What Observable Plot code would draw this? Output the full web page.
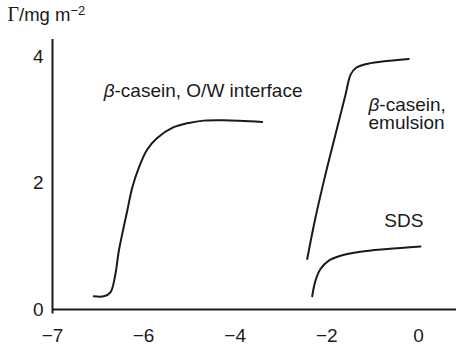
<!DOCTYPE html>
<html><head><meta charset="utf-8">
<script src="https://cdn.jsdelivr.net/npm/d3@7"></script>
<script src="https://cdn.jsdelivr.net/npm/@observablehq/plot@0.6"></script>
<style>body{margin:0;background:#fff} svg{display:block}</style>
</head><body><div id="chart"></div>
<script>
// β-casein at the O/W interface
const owX = [-6.546, -6.436, -6.363, -6.315, -6.271, -6.234, -6.179, -6.124, -6.052, -5.919, -5.701, -5.374, -5.012, -4.684, -4.248, -3.41];
const owY = [0.209, 0.209, 0.272, 0.509, 0.929, 1.192, 1.559, 1.926, 2.241, 2.531, 2.713, 2.871, 2.95, 2.987, 2.992, 2.965];
// β-casein in emulsion
const emX = [-2.428, -2.247, -2.029, -1.811, -1.592, -1.483, -1.374, -1.156, -0.792, -0.211];
const emY = [0.798, 1.454, 2.137, 2.767, 3.397, 3.711, 3.816, 3.879, 3.921, 3.963];
// SDS
const sdsX = [-2.319, -2.247, -2.138, -1.957, -1.701, -1.265, -0.683, 0.044];
const sdsY = [0.209, 0.457, 0.641, 0.772, 0.850, 0.913, 0.956, 0.997];

const xTicks = [-7, -6, -4, -2, 0];
const yTicks = [0, 2, 4];
const labelText = ["β-casein, O/W interface", "β-casein,\nemulsion", "SDS"];
const labelX = [-4.70, -1.09, -0.32];
const labelY = [3.45, 3.09, 1.40];
const labelAnchor = ["middle", "start", "middle"];
const yTitle = "Γ/mg m−2";

const series = [
  {name: "ow", xs: owX, ys: owY},
  {name: "em", xs: emX, ys: emY},
  {name: "sds", xs: sdsX, ys: sdsY}
];
const rows = series.flatMap(s => s.xs.map((x, i) => ({series: s.name, x, y: s.ys[i]})));
const labels = labelText.map((t, i) => ({t, x: labelX[i], y: labelY[i], a: labelAnchor[i]}));

const FONT = "'Liberation Sans', Arial, Helvetica, sans-serif";
const INK = "#1a1a1a";
const fmt = d => d < 0 ? "\u2212" + Math.abs(d) : String(d);

const svg = Plot.plot({
  width: 456,
  height: 349,
  marginLeft: 52, marginRight: 0, marginTop: 39, marginBottom: 40,
  style: {fontFamily: FONT, fontSize: "19px", color: INK, background: "#fff"},
  x: {type: "linear", domain: [-7, -6, 0.83], range: [52, 143, 456]},
  y: {domain: [0, 4.27], range: [309, 39]},
  marks: [
    Plot.axisX({ticks: xTicks, tickSize: 0, tickPadding: 19, tickFormat: fmt, label: null, fontSize: 19}),
    Plot.axisY({ticks: yTicks, tickSize: 0, tickPadding: 9, tickFormat: fmt, label: null, fontSize: 19}),
    Plot.ruleY([0], {x1: -7, x2: 0.83, stroke: INK, strokeWidth: 2}),
    Plot.ruleX([-7], {y1: -0.07, y2: 4.27, stroke: INK, strokeWidth: 2}),
    Plot.line(rows, {x: "x", y: "y", z: "series", stroke: INK, strokeWidth: 2, curve: "catmull-rom"}),
    ...["middle", "start"].map(a =>
      Plot.text(labels.filter(d => d.a === a), {x: "x", y: "y", text: "t", textAnchor: a, lineAnchor: "middle", lineHeight: 0.95, fontSize: 19, fill: INK, className: "lbl"})),
    Plot.text([yTitle], {frameAnchor: "top-left", text: d => d, textAnchor: "start", lineAnchor: "middle", dx: -45, dy: -24, fontSize: 18.5, fill: INK, className: "ytitle"})
  ]
});

// italic β in labels
d3.select(svg).selectAll("g.lbl text, g.lbl tspan").each(function() {
  if (this.childNodes.length === 1 && this.firstChild.nodeType === 3 && this.textContent.startsWith("β")) {
    const rest = this.textContent.slice(1);
    this.textContent = "";
    d3.select(this).append("tspan").attr("font-style", "italic").text("β");
    d3.select(this).append("tspan").text(rest);
  }
});
// y title: serif Γ and superscript −2
d3.select(svg).selectAll("g.ytitle text").each(function() {
  const s = this.textContent;
  const m = s.match(/^(Γ)(.*m)(−2)$/);
  if (!m) return;
  this.textContent = "";
  const t = d3.select(this);
  t.append("tspan").attr("font-family", "'Liberation Serif', 'Times New Roman', serif").attr("font-size", "20px").text(m[1]);
  t.append("tspan").text(m[2]);
  t.append("tspan").attr("font-size", "13px").attr("dy", "-0.5em").text(m[3]);
});

document.getElementById("chart").appendChild(svg);
</script>
</body></html>
